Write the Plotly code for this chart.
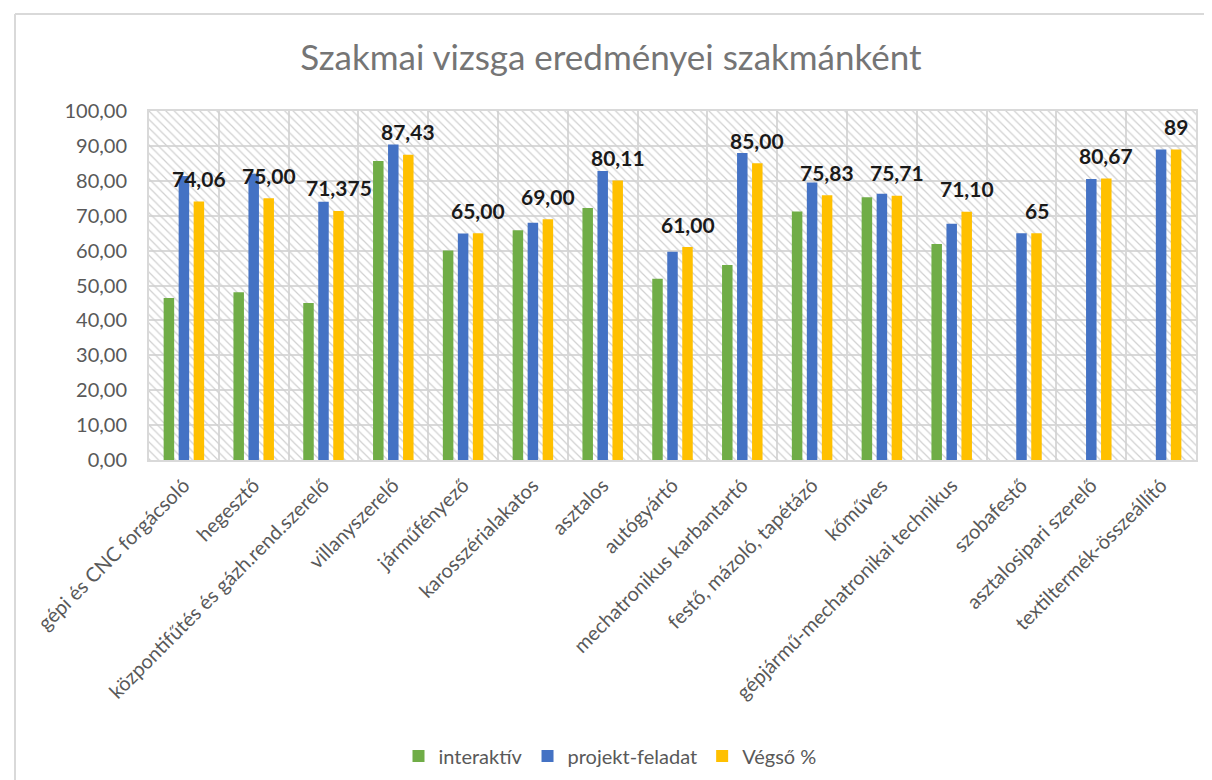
import plotly.graph_objects as go

categories = ["gépi és CNC forgácsoló", "hegesztő", "központifűtés és gázh.rend.szerelő",
              "villanyszerelő", "járműfényező", "karosszérialakatos", "asztalos", "autógyártó",
              "mechatronikus karbantartó", "festő, mázoló, tapétázó", "kőműves",
              "gépjármű-mechatronikai technikus", "szobafestő", "asztalosipari szerelő",
              "textiltermék-összeállító"]
interaktiv = [46.4, 48.1, 45.0, 85.7, 60.0, 65.8, 72.2, 51.9, 55.9, 71.2, 75.3, 61.9, None, None, None]
projekt = [81.4, 82.0, 74.0, 90.4, 64.9, 68.0, 82.8, 59.7, 88.0, 79.5, 76.3, 67.7, 65.0, 80.5, 89.0]
vegso = [74.06, 75.00, 71.375, 87.43, 65.00, 69.00, 80.11, 61.00, 85.00, 75.83, 75.71, 71.10, 65, 80.67, 89]
vegso_labels = ["74,06", "75,00", "71,375", "87,43", "65,00", "69,00", "80,11", "61,00", "85,00",
                "75,83", "75,71", "71,10", "65", "80,67", "89"]
y_max = 100

W, H = 1212, 780
L, R, T, B = 141, 24, 103, 328
pw, ph = W - L - R, H - T - B

FONT = "Lato, 'Open Sans', sans-serif"
GREY = "#595959"
GRID = "#d9d9d9"

# bar geometry in category units
cat_px = pw / len(categories)
slot = 15 / cat_px
bw = 10.5 / cat_px

fig = go.Figure()

# hatched plot-area background (one full-width tile per category, beneath the bars)
fig.add_trace(go.Bar(x=categories, y=[y_max] * len(categories), width=1, offset=-0.5,
                     marker=dict(color="rgba(0,0,0,0)", line=dict(width=0),
                                 pattern=dict(shape="\\", fgcolor="#d0d0d0", bgcolor="rgba(0,0,0,0)",
                                              size=6, solidity=0.2, fillmode="replace")),
                     showlegend=False, hoverinfo="skip"))

series = [("interaktív", interaktiv, "#70AD47", -1),
          ("projekt-feladat", projekt, "#4472C4", 0),
          ("Végső %", vegso, "#FFC000", 1)]
for name, vals, col, k in series:
    fig.add_trace(go.Bar(name=name, x=categories, y=vals, marker_color=col, marker_line_width=0,
                         width=bw, offset=k * slot - bw / 2))

for c, v, t in zip(categories, vegso, vegso_labels):
    fig.add_annotation(x=c, y=v, text=f"<b>{t}</b>", showarrow=False, xshift=15, yshift=23,
                       yanchor="middle", font=dict(family=FONT, size=21, color="#1a1a1a"))

# outer chart border (top and left visible in the reference)
fig.add_shape(type="line", xref="paper", yref="paper",
              x0=(7 - L) / pw, x1=(W + 5 - L) / pw, y0=1 + (T - 6) / ph, y1=1 + (T - 6) / ph,
              line=dict(color="#d9d9d9", width=2))
fig.add_shape(type="line", xref="paper", yref="paper",
              x0=(7 - L) / pw, x1=(7 - L) / pw, y0=1 + (T - 6) / ph, y1=-(H + 5 - T - ph) / ph,
              line=dict(color="#d9d9d9", width=2))

fig.update_layout(
    width=W, height=H,
    margin=dict(l=L, r=R, t=T, b=B),
    paper_bgcolor="white", plot_bgcolor="white",
    barmode="overlay",
    separators=",.",
    title=dict(text="Szakmai vizsga eredményei szakmánként", x=603 / W, xanchor="center",
               y=1 - 50 / H, yanchor="middle", yref="container",
               font=dict(family=FONT, size=35, color="#757575")),
    font=dict(family=FONT, color=GREY),
    legend=dict(orientation="h", x=(602 - L) / pw, xanchor="center", y=-(748 - T - ph) / ph,
                yanchor="middle", font=dict(family=FONT, size=20, color=GREY),
                itemwidth=30, traceorder="normal"),
    xaxis=dict(type="category", tickson="boundaries", showgrid=True, gridcolor=GRID, gridwidth=2,
               tickangle=-45, tickfont=dict(family=FONT, size=20, color=GREY),
               range=[-0.5, len(categories) - 0.5], ticklabelstandoff=4,
               showline=True, linecolor=GRID, linewidth=2, mirror=True, ticks=""),
    yaxis=dict(range=[0, y_max], dtick=10, tickformat=".2f", showgrid=True, gridcolor=GRID,
               gridwidth=2, tickfont=dict(family=FONT, size=20, color=GREY),
               ticklabelstandoff=16,
               showline=True, linecolor=GRID, linewidth=2, mirror=True, ticks="",
               zeroline=False),
)

fig.write_html("out.html")
